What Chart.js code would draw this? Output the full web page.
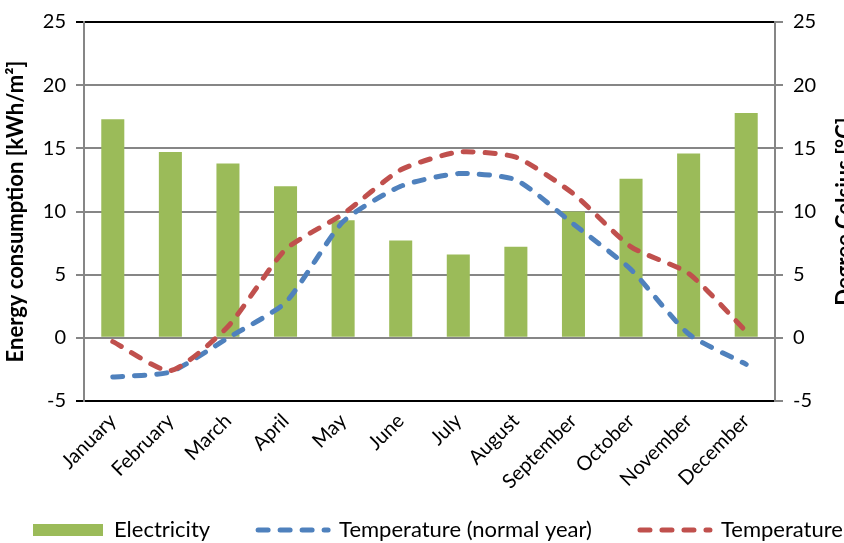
<!DOCTYPE html>
<html><head><meta charset="utf-8">
<script src="https://cdn.jsdelivr.net/npm/chart.js@4/dist/chart.umd.min.js"></script>
<style>html,body{margin:0;padding:0;background:#fff}canvas{display:block}</style>
</head><body>
<canvas id="c" width="844" height="543"></canvas>
<script>
const months = ['January','February','March','April','May','June','July','August','September','October','November','December'];
const electricity = [17.3,14.7,13.8,12.0,9.3,7.7,6.6,7.2,10.0,12.6,14.6,17.8];
const tempNormal = [-3.1,-2.7,0.0,2.8,9.2,12.0,13.0,12.5,9.0,5.4,0.3,-2.1];
const temperature = [-0.3,-2.6,0.9,7.0,9.8,13.3,14.7,14.3,11.4,7.2,5.1,0.5];
const yTicks = [-5,0,5,10,15,20,25];
const seriesNames = ['Electricity','Temperature (normal year)','Temperature'];
const axisTitles = ['Energy consumption [kWh/m²]','Degree Celsius [°C]'];

const GREEN='#9BBB59', BLUE='#4F81BD', RED='#C0504D', GRID='#868686';
const FONT='Lato';
const LEG_FONT=22, LEG_PAD=48, LEG_MAXH=60;
const PLOT_BOTTOM=401, LEG_START=33, LEG_CENTER_Y=530;

const rightTitle = {
  id:'rightTitle',
  afterDraw(chart){
    const ctx=chart.ctx, a=chart.chartArea;
    ctx.save();
    ctx.translate(834,(a.top+a.bottom)/2);
    ctx.rotate(-Math.PI/2);
    ctx.font='bold 22px '+FONT;
    ctx.fillStyle='#000';
    ctx.textAlign='center';
    ctx.textBaseline='top';
    ctx.fillText(axisTitles[1],0,0);
    ctx.restore();
  }
};
const fixLayout = {
  id:'fixLayout',
  afterLayout(chart){
    const lg=chart.legend;
    if(lg){
      lg.left=LEG_START-LEG_PAD; lg.right=2000;
      lg.top=LEG_CENTER_Y-LEG_FONT/2-LEG_PAD; lg.bottom=chart.height+60;
    }
    const x=chart.scales.x;
    x.bottom=chart.height; x.height=x.bottom-x.top;
  }
};

const yCommon = {
  min:yTicks[0], max:yTicks[yTicks.length-1],
  afterBuildTicks(s){ s.ticks = yTicks.map(v=>({value:v})); },
  ticks:{color:'#000', font:{family:FONT,size:20}, padding:10},
  border:{color:GRID,width:2}
};

new Chart(document.getElementById('c'),{
  type:'bar',
  data:{
    labels:months,
    datasets:[
      {label:seriesNames[0],data:electricity,backgroundColor:GREEN,borderWidth:0,yAxisID:'y',order:3,barPercentage:0.4,categoryPercentage:1},
      {type:'line',label:seriesNames[1],data:tempNormal,borderColor:BLUE,backgroundColor:BLUE,borderWidth:5,borderDash:[10,12],borderCapStyle:'round',pointRadius:0,tension:0.2,yAxisID:'y2',order:2},
      {type:'line',label:seriesNames[2],data:temperature,borderColor:RED,backgroundColor:RED,borderWidth:5,borderDash:[10,12],borderCapStyle:'round',pointRadius:0,tension:0.2,yAxisID:'y2',order:1}
    ]
  },
  options:{
    responsive:false, animation:false,
    layout:{padding:{top:8,bottom:0,left:0,right:0}},
    scales:{
      x:{
        grid:{display:false},
        border:{display:false},
        ticks:{color:'#000',font:{family:FONT,size:20},maxRotation:45,minRotation:45,padding:0},
        afterFit(s){ const lh=s.chart.legend?s.chart.legend.height:0; s.height=Math.max(0,543-lh-PLOT_BOTTOM); }
      },
      y:Object.assign({},yCommon,{
        position:'left',
        grid:{color:c=>(c.tick && (c.tick.value===25||c.tick.value===-5))?'#000':GRID,lineWidth:2,tickLength:8},
        title:{display:true,text:axisTitles[0],color:'#000',font:{family:FONT,size:22,weight:'bold'},padding:{top:3,bottom:2}},
        afterFit(s){ s.width=84; }
      }),
      y2:Object.assign({},yCommon,{
        position:'right',
        grid:{drawOnChartArea:false,color:GRID,lineWidth:2,tickLength:8},
        afterFit(s){ s.width=69; }
      })
    },
    plugins:{
      tooltip:{enabled:false},
      legend:{
        position:'bottom', align:'start', maxHeight:LEG_MAXH,
        labels:{
          color:'#000', font:{family:FONT,size:LEG_FONT}, usePointStyle:true, pointStyleWidth:70, boxHeight:12, padding:LEG_PAD,
          generateLabels(chart){
            const items = Chart.defaults.plugins.legend.labels.generateLabels(chart);
            items.sort((a,b)=>a.datasetIndex-b.datasetIndex);
            items.forEach(it=>{
              const i=it.datasetIndex;
              if(i===0){ it.pointStyle='rect'; it.lineWidth=0; it.fillStyle=GREEN; it.strokeStyle=GREEN; }
              else { const col=i===1?BLUE:RED; it.pointStyle='line'; it.lineWidth=5; it.lineDash=[10,12]; it.lineCap='round'; it.strokeStyle=col; it.fillStyle=col; }
            });
            return items;
          }
        }
      }
    }
  },
  plugins:[rightTitle,fixLayout]
});
</script>
</body></html>
